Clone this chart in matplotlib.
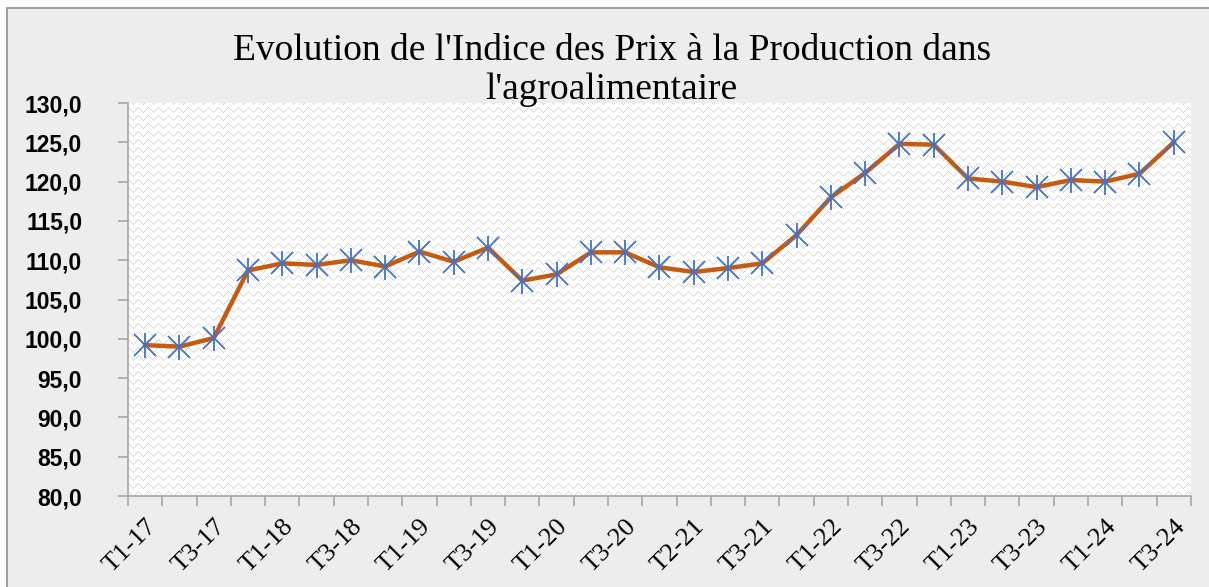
import numpy as np
import matplotlib.pyplot as plt
from matplotlib.patches import Rectangle

# Quarterly index values
quarters = ["T1-17", "T2-17", "T3-17", "T4-17", "T1-18", "T2-18", "T3-18", "T4-18",
            "T1-19", "T2-19", "T3-19", "T4-19", "T1-20", "T2-20", "T3-20", "T4-20",
            "T2-21", "T2-21", "T3-21", "T4-21", "T1-22", "T2-22", "T3-22", "T4-22",
            "T1-23", "T2-23", "T3-23", "T4-23", "T1-24", "T2-24", "T3-24"]
ipp = [99.2, 99.0, 100.1, 108.7, 109.6, 109.4, 110.0, 109.2,
       111.1, 109.8, 111.6, 107.4, 108.2, 111.0, 111.0, 109.1,
       108.5, 109.0, 109.6, 113.2, 118.0, 121.1, 124.8, 124.7,
       120.4, 120.0, 119.3, 120.2, 120.0, 121.0, 125.0]
yticks = [80, 85, 90, 95, 100, 105, 110, 115, 120, 125, 130]

title = "Evolution de l'Indice des Prix à la Production dans\nl'agroalimentaire"


def herringbone(h, w, period=10):
    """Light grey zigzag texture for the plot area"""
    yy, xx = np.mgrid[0:h, 0:w]
    zig = np.abs((xx % period) - period / 2)
    mask = ((yy + zig) % 8) < 3
    mask &= ((xx + yy) % 2) == 0
    img = np.ones((h, w, 3))
    img[mask] = 0.82
    return img


def main():
    fig = plt.figure(figsize=(12.09, 5.87), dpi=100)
    fig.patch.set_facecolor("white")
    fig.patches.append(Rectangle((0.006, -0.05), 1.1, 1.036, transform=fig.transFigure,
                                 facecolor="#EDEDED", edgecolor="#8C8C8C", lw=1.2, zorder=-1))

    ax = fig.add_axes([0.1059, 0.155, 0.8791, 0.6695])
    ax.set_facecolor("white")
    ax.imshow(herringbone(393, 1063), extent=[0, 1, 0, 1], transform=ax.transAxes,
              aspect="auto", interpolation="nearest", zorder=0)

    x = np.arange(len(ipp))
    ax.plot(x, ipp, color="#C55A11", lw=3.2, zorder=2, solid_joinstyle="round")
    ax.plot(x, ipp, ls="none", marker="x", ms=16, mew=1.3, color="#4472C4", zorder=3)
    ax.plot(x, ipp, ls="none", marker="|", ms=18, mew=1.3, color="#4472C4", zorder=3)

    ax.set_xlim(-0.5, len(ipp) - 0.5)
    ax.set_ylim(80, 130)

    ax.set_yticks(yticks)
    ax.set_yticklabels([f"{v:.1f}".replace(".", ",") for v in yticks],
                       fontsize=16.5, fontweight="bold", family="Liberation Sans")

    # every other quarter is labelled (labels as printed in the source)
    labels = [quarters[i] for i in range(0, len(quarters), 2)]
    labels[7] = "T3-20"
    labels[8] = "T2-21"
    ax.set_xticks(x[::2])
    ax.set_xticklabels(labels, rotation=45, ha="right", rotation_mode="anchor",
                       fontsize=19, family="Liberation Serif")
    ax.set_xticks(np.arange(-0.5, len(ipp)), minor=True)
    ax.tick_params(axis="x", which="major", length=0, pad=14)
    ax.tick_params(axis="x", which="minor", length=7, color="#A6A6A6", width=1.2)
    ax.tick_params(axis="y", length=7, color="#A6A6A6", width=1.2, pad=26)

    for side in ["top", "right"]:
        ax.spines[side].set_visible(False)
    for side in ["left", "bottom"]:
        ax.spines[side].set_color("#A6A6A6")
        ax.spines[side].set_linewidth(1.2)

    fig.text(0.506, 0.88, title, ha="center", va="center", fontsize=27,
             family="Liberation Serif", linespacing=1.15)

    fig.savefig("out.png", dpi=100)


if __name__ == "__main__":
    main()
